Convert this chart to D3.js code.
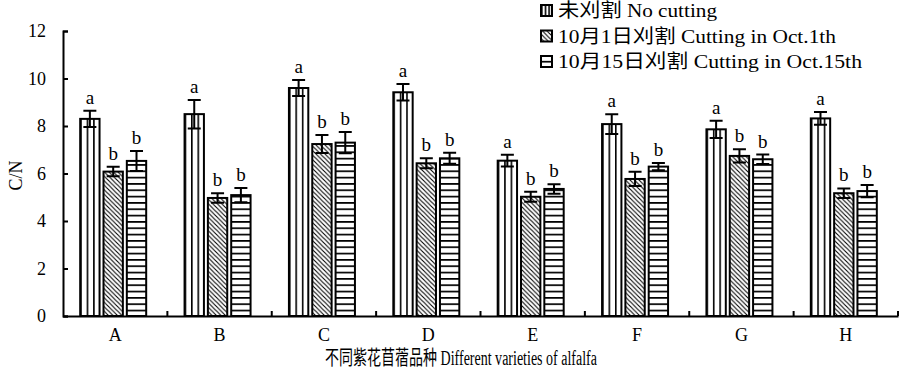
<!DOCTYPE html>
<html><head><meta charset="utf-8">
<script src="https://cdn.jsdelivr.net/npm/d3@7/dist/d3.min.js"></script>
<style>
body{margin:0;background:#fff;}
svg text{font-family:"Liberation Serif","Noto Sans CJK SC",serif !important;fill:#000;}
</style></head>
<body><svg id="c" width="900" height="371"></svg>
<script>
const categories = ["A","B","C","D","E","F","G","H"];
const seriesNames = ["未刈割 No cutting","10月1日刈割 Cutting in Oct.1th","10月15日刈割 Cutting in Oct.15th"];
const noCutting   = [8.3, 8.5, 9.6, 9.42, 6.54, 8.08, 7.86, 8.32];
const cutOct1     = [6.08, 4.97, 7.24, 6.43, 5.02, 5.77, 6.74, 5.17];
const cutOct15    = [6.53, 5.09, 7.3, 6.64, 5.35, 6.29, 6.6, 5.26];
const errNoCut    = [0.34, 0.6, 0.34, 0.35, 0.25, 0.42, 0.36, 0.27];
const errOct1     = [0.2, 0.2, 0.38, 0.21, 0.21, 0.3, 0.28, 0.2];
const errOct15    = [0.42, 0.3, 0.45, 0.23, 0.2, 0.15, 0.2, 0.26];
const lettersNoCut = ["a","a","a","a","a","a","a","a"];
const lettersOct1  = ["b","b","b","b","b","b","b","b"];
const lettersOct15 = ["b","b","b","b","b","b","b","b"];
const yTicks = [0,2,4,6,8,10,12];
const yLabel = "C/N";
const xLabel = "不同紫花苜蓿品种 Different varieties of alfalfa";

(function(){
const series = [
  {name:seriesNames[0], values:noCutting, errs:errNoCut, letters:lettersNoCut, fill:"url(#pv)", len:159},
  {name:seriesNames[1], values:cutOct1, errs:errOct1, letters:lettersOct1, fill:"url(#pd)", len:278},
  {name:seriesNames[2], values:cutOct15, errs:errOct15, letters:lettersOct15, fill:"url(#ph)", len:304}
];

const svg = d3.select("#c");
const pL=63, pR=898, pT=31, pB=316;
const x = d3.scaleBand().domain(categories).range([pL,pR]).paddingInner(0).paddingOuter(0);
const y = d3.scaleLinear().domain([0,12]).range([pB,pT]);
const groupW = 66;
const xs = d3.scaleBand().domain([0,1,2]).range([0,groupW]).paddingInner(0.17);

const defs = svg.append("defs");
const pv = defs.append("pattern").attr("id","pv").attr("patternUnits","objectBoundingBox")
  .attr("width",1/3).attr("height",1);
pv.append("rect").attr("x",0).attr("y",0).attr("width",1.6).attr("height",400).attr("fill","#000");
const pd = defs.append("pattern").attr("id","pd").attr("patternUnits","userSpaceOnUse")
  .attr("width",4.5).attr("height",4.5);
pd.append("path").attr("d","M0,0L4.5,4.5M-1,3.5L1,5.5M3.5,-1L5.5,1").attr("stroke","#000").attr("stroke-width",1.1);
const ph = defs.append("pattern").attr("id","ph").attr("patternUnits","userSpaceOnUse")
  .attr("x",0).attr("y",pB).attr("width",10).attr("height",6.33);
ph.append("rect").attr("x",0).attr("y",0).attr("width",10).attr("height",1.7).attr("fill","#000");

series.forEach((s,si)=>{
  const g = svg.append("g");
  categories.forEach((c,i)=>{
    const gx = x(c) + (x.bandwidth()-groupW)/2 - 2 + xs(si);
    const bw = xs.bandwidth();
    const v = s.values[i];
    g.append("rect").attr("x",gx).attr("y",y(v)).attr("width",bw).attr("height",y(0)-y(v))
      .attr("fill","#fff");
    g.append("rect").attr("x",gx).attr("y",y(v)).attr("width",bw).attr("height",y(0)-y(v))
      .attr("fill",s.fill).attr("stroke","#000").attr("stroke-width",2);
    const cx = gx + bw/2, e = s.errs[i];
    g.append("path").attr("d",`M${cx-6.5},${y(v+e)}H${cx+6.5}M${cx},${y(v+e)}V${y(v-e)}M${cx-6.5},${y(v-e)}H${cx+6.5}`)
      .attr("stroke","#000").attr("stroke-width",2).attr("fill","none");
    g.append("text").attr("x",cx).attr("y",y(v+e)-7).attr("text-anchor","middle")
      .attr("font-size",19).text(s.letters[i]);
  });
});

const ya = svg.append("g").attr("transform",`translate(${pL},0)`)
  .call(d3.axisLeft(y).tickValues(yTicks).tickFormat(d3.format("d")).tickSize(-5).tickPadding(17));
ya.select(".domain").attr("stroke-width",2);
ya.selectAll(".tick line").attr("stroke-width",2);
ya.selectAll("text").attr("font-size",18);

const xa = svg.append("g").attr("transform",`translate(0,${pB})`)
  .call(d3.axisBottom(x).tickSize(0).tickPadding(12));
xa.select(".domain").attr("stroke-width",2);
xa.selectAll("text").attr("font-size",18);
svg.append("g").selectAll("line").data(categories).join("line")
  .attr("x1",d=>x(d)+x.bandwidth()).attr("x2",d=>x(d)+x.bandwidth())
  .attr("y1",pB).attr("y2",pB-5).attr("stroke","#000").attr("stroke-width",2);

svg.append("text").attr("transform",`translate(22,${(pT+pB)/2+2}) rotate(-90)`)
  .attr("text-anchor","middle").attr("font-size",18).text(yLabel);
svg.append("text").attr("x",325).attr("y",365)
  .attr("font-size",20).attr("textLength",272).attr("lengthAdjust","spacingAndGlyphs").text(xLabel);

const lg = svg.append("g").attr("transform","translate(541,4)");
series.forEach((s,i)=>{
  const r = lg.append("g").attr("transform",`translate(0,${i*25.5})`);
  r.append("rect").attr("x",0).attr("y",1).attr("width",11).attr("height",11).attr("fill","#fff");
  r.append("rect").attr("x",0).attr("y",1).attr("width",11).attr("height",11)
    .attr("fill",s.fill).attr("stroke","#000").attr("stroke-width",2);
  r.append("text").attr("x",17).attr("y",13).attr("font-size",19)
    .attr("textLength",s.len).attr("lengthAdjust","spacingAndGlyphs").text(s.name);
});
})();
</script></body></html>
